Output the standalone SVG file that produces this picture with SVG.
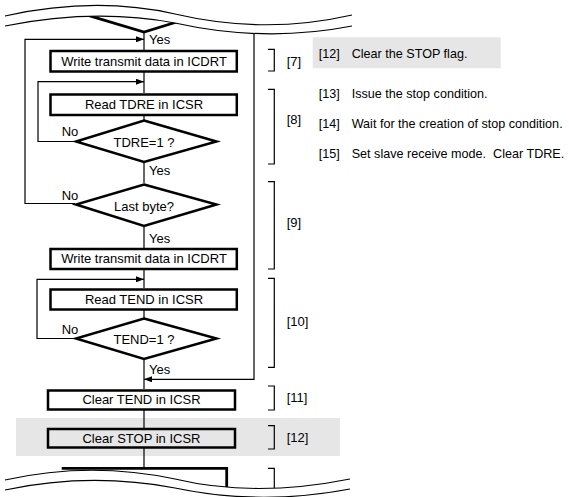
<svg xmlns="http://www.w3.org/2000/svg" width="569" height="497" viewBox="0 0 569 497">
<style>
.box{fill:#fff;stroke:#000;stroke-width:2.5}
.gbox{fill:#e6e6e6;stroke:#000;stroke-width:2.5}
.dia{fill:#fff;stroke:#000;stroke-width:2.5;stroke-linejoin:miter}
.ln{fill:none;stroke:#000;stroke-width:1.2}
.thk{fill:none;stroke:#000;stroke-width:2.8}
.wave{fill:none;stroke:#000;stroke-width:1.2}
.t{font-family:"Liberation Sans",Arial,Helvetica,sans-serif;font-size:13px;fill:#000}
.n{font-size:12.6px}
.c{text-anchor:middle}
.pre{white-space:pre}
</style>
<defs>
<marker id="ah" markerUnits="userSpaceOnUse" markerWidth="8" markerHeight="6" refX="8" refY="3" orient="auto">
<path d="M0,0 L8,3 L0,6 Z" fill="#000"/>
</marker>
<clipPath id="brk">
<path d="M0,26 L5,26 Q95,8 175,23 Q265,43 352,26 L569,26 L569,479 L350,479 Q255,498 175,479 Q90,461 5,480 L0,480 Z"/>
</clipPath>
</defs>
<rect x="0" y="0" width="569" height="497" fill="#fff"/>
<g id="highlights">
<rect x="16" y="418" width="324" height="38" fill="#e6e6e6"/>
<rect x="312.7" y="37.3" width="188" height="31" fill="#e6e6e6"/>
</g>
<g id="connectors">
<g clip-path="url(#brk)">
<path class="thk" d="M70,10 L144,32 L180,21"/>
<path class="ln" d="M144,32 V50"/>
<path class="ln" d="M254,20 V379.3 H144" marker-end="url(#ah)"/>
<path class="ln" d="M144,448 V468"/>
<path class="thk" d="M61.7,468.3 H226.7 V495"/>
</g>
<path class="ln" d="M75,203.5 H25 V39.3 H144" marker-end="url(#ah)"/>
<path class="ln" d="M144,72 V93"/>
<path class="ln" d="M75,141.5 H38 V81.7 H144" marker-end="url(#ah)"/>
<path class="ln" d="M144,115 V120"/>
<path class="ln" d="M144,162 V183"/>
<path class="ln" d="M144,226 V248"/>
<path class="ln" d="M144,269 V288"/>
<path class="ln" d="M75,338.5 H37 V279.3 H144" marker-end="url(#ah)"/>
<path class="ln" d="M144,310 V318"/>
<path class="ln" d="M144,359 V389"/>
<path class="ln" d="M144,410 V428"/>
</g>
<g id="labels">
<text class="t" x="149" y="44">Yes</text>
<text class="t" x="61.7" y="135.5">No</text>
<text class="t" x="149" y="174.5">Yes</text>
<text class="t" x="61.7" y="199.5">No</text>
<text class="t" x="149" y="242.5">Yes</text>
<text class="t" x="61.7" y="334">No</text>
<text class="t" x="149" y="373.5">Yes</text>
</g>
<g id="n7">
<rect class="box" x="50.5" y="51" width="186.3" height="20.5"/>
<text class="t c" x="144" y="66">Write transmit data in ICDRT</text>
</g>
<g id="n8a">
<rect class="box" x="50.5" y="94.5" width="186.3" height="20.5"/>
<text class="t c" x="144" y="108.5">Read TDRE in ICSR</text>
</g>
<g id="n8b">
<polygon class="dia" points="144,120.5 216.5,141.5 144,162 76,141.5"/>
<text class="t c" x="144" y="146.5">TDRE=1 ?</text>
</g>
<g id="n9a">
<polygon class="dia" points="144,184.5 216.5,204.5 144,226 76,204.5"/>
<text class="t c" x="144" y="211">Last byte?</text>
</g>
<g id="n9b">
<rect class="box" x="50.5" y="249" width="186.3" height="20"/>
<text class="t c" x="144" y="263">Write transmit data in ICDRT</text>
</g>
<g id="n10a">
<rect class="box" x="50.5" y="289.5" width="186.3" height="20"/>
<text class="t c" x="144" y="304">Read TEND in ICSR</text>
</g>
<g id="n10b">
<polygon class="dia" points="144,318.5 216.5,338.5 144,359 76,338.5"/>
<text class="t c" x="144" y="344.3">TEND=1 ?</text>
</g>
<g id="n11">
<rect class="box" x="48" y="390.5" width="187" height="19"/>
<text class="t c" x="141.5" y="404">Clear TEND in ICSR</text>
</g>
<g id="n12">
<rect class="gbox" x="48" y="429" width="187" height="18.5"/>
<text class="t c" x="141.5" y="442.5">Clear STOP in ICSR</text>
</g>
<g id="brackets">
<path class="ln" d="M268,49.3 H274.3 V71 H268"/>
<text class="t" x="286.7" y="65.7">[7]</text>
<path class="ln" d="M268,89.3 H274.3 V164 H268"/>
<text class="t" x="286.7" y="124">[8]</text>
<path class="ln" d="M268,181.7 H274.3 V269 H268"/>
<text class="t" x="286.7" y="227">[9]</text>
<path class="ln" d="M268,278.3 H274.3 V367.3 H268"/>
<text class="t" x="286.7" y="325.5">[10]</text>
<path class="ln" d="M268,386 H274.3 V410 H268"/>
<text class="t" x="286.7" y="401.5">[11]</text>
<path class="ln" d="M268,425.7 H274.3 V449 H268"/>
<text class="t" x="286.7" y="441.5">[12]</text>
<path class="ln" d="M268,468.3 H274.3 V500" clip-path="url(#brk)"/>
</g>
<g id="notes">
<text class="t n" x="318.7" y="57.5">[12]</text>
<text class="t n" x="351.7" y="57.5">Clear the STOP flag.</text>
<text class="t n" x="318.7" y="98">[13]</text>
<text class="t n" x="351.7" y="98">Issue the stop condition.</text>
<text class="t n" x="318.7" y="127.5">[14]</text>
<text class="t n" x="351.7" y="127.5">Wait for the creation of stop condition.</text>
<text class="t n" x="318.7" y="157.5">[15]</text>
<text class="t n pre" x="351.7" y="157.5" xml:space="preserve">Set slave receive mode.  Clear TDRE.</text>
</g>
<g id="breaks">
<path class="wave" d="M5,16 Q95,-4 175,14 Q265,35 352,15"/>
<path class="wave" d="M5,26 Q95,8 175,23 Q265,43 352,26"/>
<path class="wave" d="M5,480 Q90,461 175,479 Q255,498 350,479"/>
<path class="wave" d="M5,490 Q90,472 175,488 Q260,506 350,489"/>
</g>
</svg>
